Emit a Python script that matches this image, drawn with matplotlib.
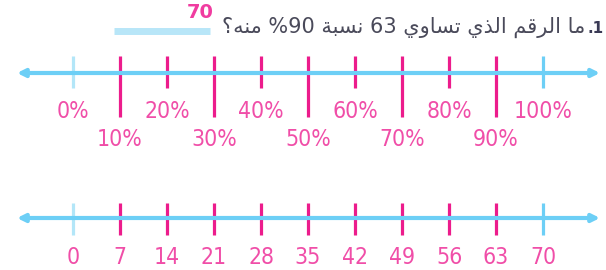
import matplotlib
matplotlib.use('Agg')
import matplotlib.pyplot as plt

# values on the two number lines
pct_values = [0, 10, 20, 30, 40, 50, 60, 70, 80, 90, 100]
pct_labels = ['0%', '10%', '20%', '30%', '40%', '50%', '60%', '70%', '80%', '90%', '100%']
num_values = [0, 7, 14, 21, 28, 35, 42, 49, 56, 63, 70]
num_labels = ['0', '7', '14', '21', '28', '35', '42', '49', '56', '63', '70']

answer = '70'
# Arabic question, written in visual order with presentation forms
# (matplotlib does no Arabic shaping): "ما الرقم الذي تساوي 63 نسبة 90% منه؟"
question = ('\u061F\uFEEA\uFEE8\uFEE3 %90 \uFE94\uFE92\uFEB4\uFEE7 63 '
            '\uFEF1\uFEED\uFE8E\uFEB4\uFE97 \uFEF1\uFEAC\uFEDF\uFE8D '
            '\uFEE2\uFED7\uFEAE\uFEDF\uFE8D \uFE8E\uFEE3')
number = '.1'

cyan = '#6dcff6'
cyan_light = '#b3e6f8'
pink = '#ec1c8c'
pink_text = '#f04ea8'

W, H = 606, 270
fig = plt.figure(figsize=(W / 100, H / 100), dpi=100)

X0, X1 = 73, 543          # pixel positions of first and last tick


def line_axes(vmax):
    ax = fig.add_axes([0, 0, 1, 1])
    scale = (X1 - X0) / vmax
    ax.set_xlim(-X0 / scale, (W - X0) / scale)
    ax.set_ylim(H, 0)
    ax.set_facecolor('none')
    ax.axis('off')
    return ax, scale


def draw_axis_line(ax, scale, y):
    left = (17 - X0) / scale
    right = (600 - X0) / scale
    ax.annotate('', xy=(right, y), xytext=(left, y),
                arrowprops=dict(arrowstyle='<|-|>', color=cyan, lw=3,
                                mutation_scale=11, shrinkA=0, shrinkB=0))


def label(ax, x, y, s):
    ax.text(x, y, s, ha='center', va='center', fontsize=16.5,
            color=pink_text, family='DejaVu Sans', fontstretch='condensed')


# ---- top line: percents
ax1, s1 = line_axes(pct_values[-1])
draw_axis_line(ax1, s1, 73)
for i, (v, lab) in enumerate(zip(pct_values, pct_labels)):
    if i == 0 or i == len(pct_values) - 1:
        col = cyan_light if i == 0 else cyan
        ax1.plot([v, v], [56, 88], color=col, lw=2.3, solid_capstyle='butt')
    else:
        bottom = 117 if i % 2 else 88
        ax1.plot([v, v], [56, bottom], color=pink, lw=2.3, solid_capstyle='butt')
    label(ax1, v, 140 if i % 2 else 111, lab)

# ---- bottom line: numbers
ax2, s2 = line_axes(num_values[-1])
draw_axis_line(ax2, s2, 218)
for i, (v, lab) in enumerate(zip(num_values, num_labels)):
    if i == 0:
        col = cyan_light
    elif i == len(num_values) - 1:
        col = cyan
    else:
        col = pink
    ax2.plot([v, v], [203, 235], color=col, lw=2.3, solid_capstyle='butt')
    label(ax2, v, 258, lab)

# ---- question with answer blank
fig.text(604 / W, 1 - 33 / H, number, ha='right', va='baseline',
         fontsize=11, color='#3a3a55', fontweight='bold')
fig.text(585 / W, 1 - 33 / H, question, ha='right', va='baseline',
         fontsize=15, color='#4a4a5a', family='DejaVu Sans')
fig.add_artist(plt.Line2D([114 / W, 210 / W], [1 - 30.5 / H, 1 - 30.5 / H],
                          color='#b8e6f8', lw=5, solid_capstyle='butt'))
fig.text(200 / W, 1 - 12 / H, answer, ha='center', va='center',
         fontsize=14, color='#f03ca0', fontweight='bold')

plt.savefig('out.png', dpi=100)
